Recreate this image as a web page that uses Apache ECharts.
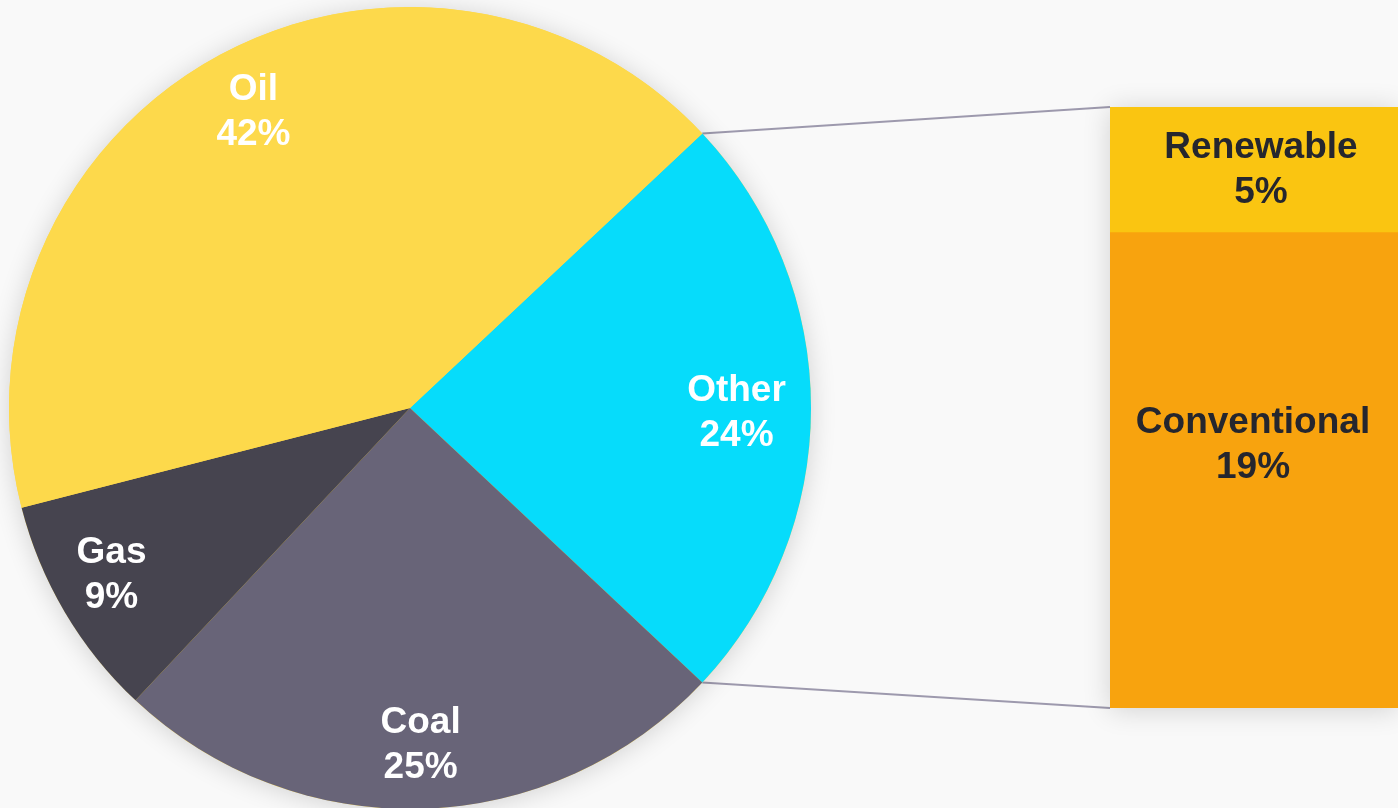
<!DOCTYPE html>
<html>
<head>
<meta charset="utf-8">
<script src="https://cdn.jsdelivr.net/npm/echarts@6/dist/echarts.min.js"></script>
<style>
html,body{margin:0;padding:0;background:#f9f9f9;}
#chart{width:1398px;height:808px;}
</style>
</head>
<body>
<div id="chart"></div>
<script>
// Data
const pieNames = ['Other', 'Coal', 'Gas', 'Oil'];
const pieValues = [24, 25, 9, 42];
const pieColors = ['#06dcfb', '#686478', '#46444f', '#fdd94b'];
const barNames = ['Conventional', 'Renewable'];
const barValues = [19, 5];
const barColors = ['#f8a30e', '#fac511'];

// Layout
const CX = 410, CY = 408, R = 401;
const total = pieValues.reduce((a, b) => a + b, 0);
const otherDeg = pieValues[0] / total * 360;
const startAngle = otherDeg / 2;
const GRID_LEFT = 1110, GRID_TOP = 107, GRID_H = 601, GRID_W = 302;
const font = "'Liberation Sans', Arial, Helvetica, sans-serif";
const FS = 37, LH = 45;
const pieLabelOffsets = [[-11, 5], [0, 0], [-8, -5], [6, 0]];
const barLabelOffsets = [[-1, -25], [7, 1]];

const pieData = pieNames.map((n, i) => ({ name: n, value: pieValues[i], itemStyle: { color: pieColors[i] } }));
const labelData = pieNames.map((n, i) => ({ name: n, value: pieValues[i], label: { offset: pieLabelOffsets[i] } }));
const barTotal = barValues.reduce((a, b) => a + b, 0);

const chart = echarts.init(document.getElementById('chart'), null, { renderer: 'canvas' });

const shadow = { shadowBlur: 26, shadowColor: 'rgba(0,0,0,0.16)', shadowOffsetY: 2 };

const option = {
  backgroundColor: '#f9f9f9',
  animation: false,
  grid: { left: GRID_LEFT, top: GRID_TOP, width: GRID_W, height: GRID_H, containLabel: false },
  xAxis: { type: 'category', data: ['Other'], show: false },
  yAxis: { type: 'value', min: 0, max: barTotal, show: false },
  series: [
    {
      // shadow backdrop for the whole pie
      type: 'pie', center: [CX, CY], radius: [0, R], silent: true, z: 2,
      label: { show: false }, labelLine: { show: false },
      itemStyle: Object.assign({ color: pieColors[3] }, shadow),
      data: [{ name: '', value: total }]
    },
    {
      type: 'pie', center: [CX, CY], radius: [0, R], startAngle: startAngle, clockwise: true,
      silent: true, label: { show: false }, labelLine: { show: false },
      data: pieData, z: 3
    },
    {
      type: 'pie', center: [CX, CY], radius: [268, R], startAngle: startAngle, clockwise: true,
      silent: true, itemStyle: { color: 'rgba(0,0,0,0)' },
      label: {
        show: true, position: 'inside', color: '#ffffff', fontFamily: font, fontWeight: 'bold',
        fontSize: FS, lineHeight: LH, formatter: p => p.name + '\n' + p.value + '%'
      },
      labelLine: { show: false },
      data: labelData, z: 4
    },
    {
      // shadow backdrop for the whole bar
      type: 'bar', barWidth: '100%', barGap: '-100%', silent: true, z: 2,
      itemStyle: Object.assign({ color: barColors[0] }, shadow),
      data: [barTotal]
    },
    {
      type: 'bar', stack: 'other', barWidth: '100%', barGap: '-100%', silent: true, z: 3,
      itemStyle: { color: barColors[0] },
      label: { show: true, position: 'inside', color: '#25262e', fontFamily: font, fontWeight: 'bold',
        fontSize: FS, lineHeight: LH, offset: barLabelOffsets[0], formatter: () => barNames[0] + '\n' + barValues[0] + '%' },
      data: [barValues[0]]
    },
    {
      type: 'bar', stack: 'other', barWidth: '100%', barGap: '-100%', silent: true, z: 3,
      itemStyle: { color: barColors[1] },
      label: { show: true, position: 'inside', color: '#25262e', fontFamily: font, fontWeight: 'bold',
        fontSize: FS, lineHeight: LH, offset: barLabelOffsets[1], formatter: () => barNames[1] + '\n' + barValues[1] + '%' },
      data: [barValues[1]]
    }
  ]
};
chart.setOption(option);

// Connector lines from Other slice edges to bar corners
const a1 = startAngle * Math.PI / 180;
const a2 = (startAngle - otherDeg) * Math.PI / 180;
const p1 = [CX + R * Math.cos(a1), CY - R * Math.sin(a1)];
const p2 = [CX + R * Math.cos(a2), CY - R * Math.sin(a2)];
const topPt = chart.convertToPixel({ gridIndex: 0 }, [0, barTotal]);
const botPt = chart.convertToPixel({ gridIndex: 0 }, [0, 0]);
const lineStyle = { stroke: '#9d99ad', lineWidth: 2 };
chart.setOption({
  graphic: [
    { type: 'line', z: 1, silent: true, shape: { x1: p1[0], y1: p1[1], x2: GRID_LEFT, y2: topPt[1] }, style: lineStyle },
    { type: 'line', z: 1, silent: true, shape: { x1: p2[0], y1: p2[1], x2: GRID_LEFT, y2: botPt[1] }, style: lineStyle }
  ]
});
</script>
</body>
</html>
